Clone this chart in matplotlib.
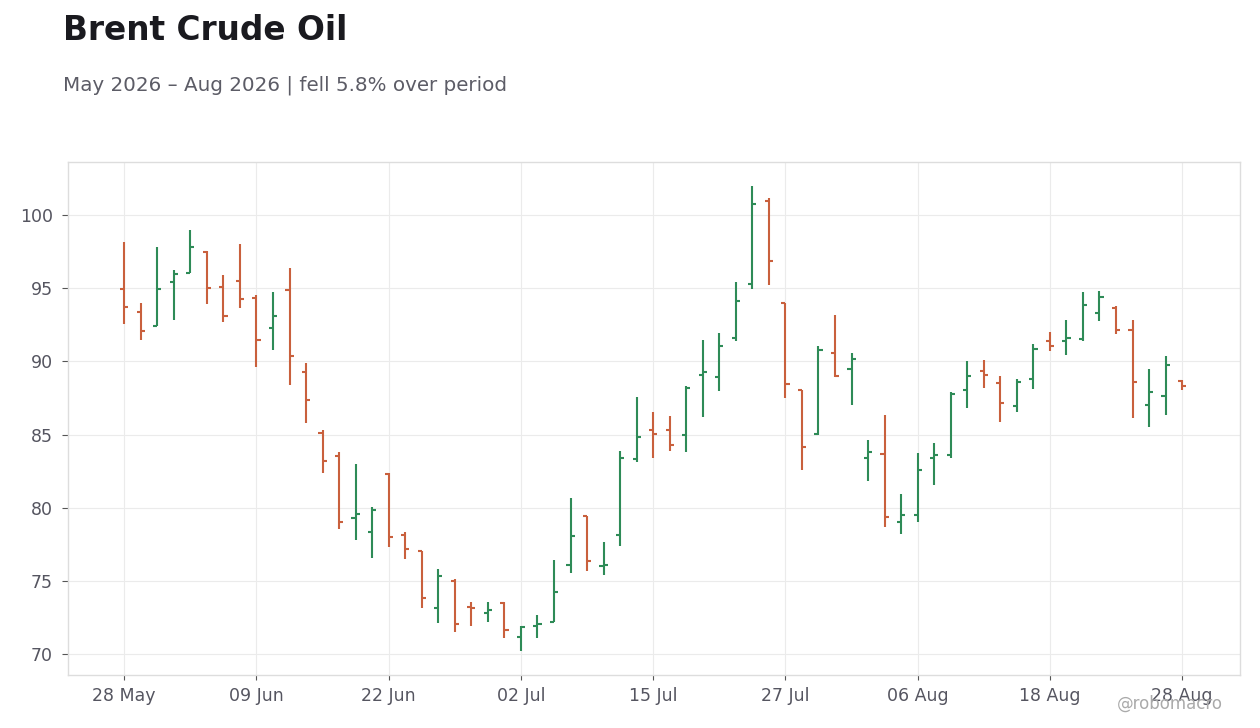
import numpy as np
import matplotlib
matplotlib.use('Agg')
from matplotlib import pyplot as plt

plt.rcParams['font.family'] = ['DejaVu Sans']

# OHLC per trading day (US calendar, 28 May - 28 Aug 2026)
opens = [94.97, 93.39, 92.44, 95.44, 96.04, 97.45, 95.10, 95.51, 94.35, 92.30,
         94.90, 89.24, 85.07, 83.56, 79.26, 78.37, 82.27, 78.10, 77.05, 73.13,
         74.98, 73.20, 72.79, 73.47, 71.14, 71.89, 72.17, 76.07, 79.45, 76.00,
         78.10, 83.30, 85.28, 85.28, 84.94, 89.04, 88.91, 91.57, 95.26, 100.93,
         93.96, 88.01, 85.01, 90.54, 89.45, 83.37, 83.65, 79.00, 79.48, 83.37,
         83.58, 88.01, 89.31, 88.49, 86.92, 88.77, 91.36, 91.36, 91.54, 93.34,
         93.68, 92.16, 86.99, 87.60, 88.63]
highs = [98.15, 93.99, 97.81, 96.24, 98.97, 97.54, 95.90, 98.02, 94.51, 94.74,
         96.38, 89.90, 85.32, 83.82, 83.00, 80.06, 82.38, 78.35, 77.03, 75.84,
         75.14, 73.52, 73.58, 73.56, 71.92, 72.63, 76.39, 80.64, 79.45, 77.63,
         83.89, 87.59, 86.56, 86.29, 88.34, 91.48, 91.96, 95.44, 102.00, 101.16,
         93.98, 88.04, 91.06, 93.18, 90.59, 84.65, 86.35, 80.96, 83.76, 84.44,
         87.92, 90.06, 90.11, 89.02, 88.81, 91.20, 92.02, 92.84, 94.75, 94.82,
         93.79, 92.84, 89.49, 90.38, 88.74]
lows = [92.55, 91.48, 92.39, 92.85, 96.06, 93.94, 92.71, 93.67, 89.64, 90.80,
        88.40, 85.82, 82.40, 78.51, 77.82, 76.59, 77.28, 76.46, 73.13, 72.10,
        71.48, 71.89, 72.17, 71.07, 70.18, 71.07, 72.17, 75.53, 75.66, 75.39,
        77.38, 83.10, 83.37, 83.85, 83.78, 86.17, 87.95, 91.37, 94.92, 95.19,
        87.47, 82.55, 84.94, 88.90, 87.04, 81.85, 78.71, 78.19, 79.00, 81.53,
        83.37, 86.79, 88.15, 85.87, 86.51, 88.08, 90.68, 90.47, 91.36, 92.77,
        91.84, 86.10, 85.49, 86.31, 88.01]
closes = [93.74, 92.10, 94.97, 95.99, 97.84, 95.03, 93.12, 94.28, 91.48, 93.12,
          90.38, 87.37, 83.22, 78.99, 79.60, 79.87, 77.96, 77.14, 73.81, 75.32,
          72.03, 73.15, 72.99, 71.62, 71.83, 72.05, 74.22, 78.06, 76.35, 76.07,
          83.37, 84.81, 85.01, 84.26, 88.15, 89.25, 91.03, 94.10, 100.73, 96.83,
          88.42, 84.12, 90.75, 89.02, 90.13, 83.78, 79.39, 79.48, 82.55, 83.58,
          87.74, 88.97, 89.04, 87.13, 88.56, 90.88, 91.06, 91.63, 93.82, 94.43,
          92.16, 88.61, 87.88, 89.72, 88.30]

tick_labels = ['28 May', '09 Jun', '22 Jun', '02 Jul', '15 Jul', '27 Jul',
               '06 Aug', '18 Aug', '28 Aug']

UP = '#2e8b57'
DOWN = '#c9603d'

fig = plt.figure(figsize=(12.6, 7.28), dpi=100)
ax = fig.add_axes([68 / 1260, 1 - 675 / 728, (1240 - 68) / 1260, (675 - 162) / 728])

x = np.arange(len(opens))
o = np.array(opens); h = np.array(highs); l = np.array(lows); c = np.array(closes)
cols = [UP if cc >= oo else DOWN for oo, cc in zip(o, c)]
tw = 0.25

ax.vlines(x, l, h, colors=cols, linewidth=1.5)
ax.hlines(o, x - tw, x, colors=cols, linewidth=1.5)
ax.hlines(c, x, x + tw, colors=cols, linewidth=1.5)

ax.set_xlim(-3.4, 67.5)
ax.set_ylim(68.56, 103.63)
ax.set_xticks(x[::8])
ax.set_xticklabels(tick_labels)
ax.set_yticks([70, 75, 80, 85, 90, 95, 100])

ax.grid(True, color='#ebebeb', linewidth=0.8)
ax.set_axisbelow(True)
for s in ax.spines.values():
    s.set_color('#dddddd')
    s.set_linewidth(1)
ax.tick_params(axis='both', colors='#555555', labelsize=12.5,
               labelcolor='#555560', width=0.8)
ax.tick_params(axis='y', length=4.3, pad=6.5)
ax.tick_params(axis='x', length=3.6, pad=5)

fig.text(63 / 1260, 1 - 30 / 728, 'Brent Crude Oil', fontsize=23.6, fontweight='bold',
         color='#1a1a1f', va='center', ha='left')
fig.text(63 / 1260, 1 - 85 / 728, 'May 2026 \u2013 Aug 2026 | fell 5.8% over period',
         fontsize=14.3, color='#5c5c66', va='center', ha='left')
fig.text(1170 / 1260, 1 - 704 / 728, '@robomacro', fontsize=12, color='#aaaaaa',
         va='center', ha='center')

fig.savefig('out.png', dpi=100, facecolor='white')
